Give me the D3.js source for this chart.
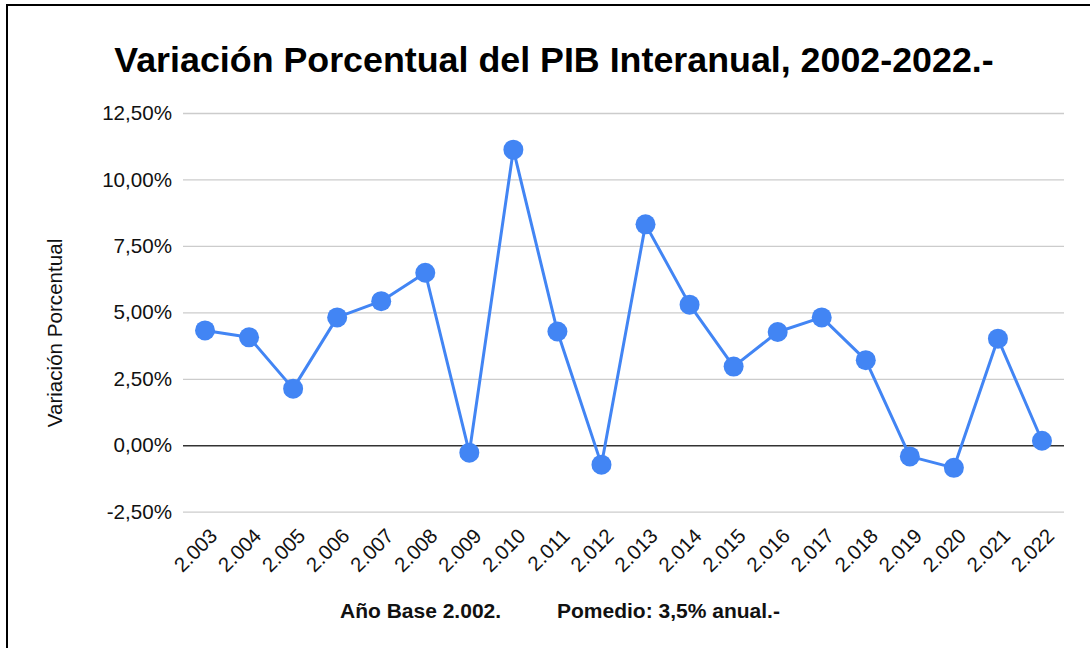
<!DOCTYPE html>
<html>
<head>
<meta charset="utf-8">
<script src="https://cdn.jsdelivr.net/npm/d3@7"></script>
<style>
  html, body { margin: 0; padding: 0; background: #fff; }
  svg { display: block; font-family: Arial, "Liberation Sans", sans-serif; }
</style>
</head>
<body>
<div id="chart"></div>
<script>
// data
const years = ['2.003', '2.004', '2.005', '2.006', '2.007', '2.008', '2.009', '2.010', '2.011', '2.012',
               '2.013', '2.014', '2.015', '2.016', '2.017', '2.018', '2.019', '2.020', '2.021', '2.022'];
const variacion = [4.32, 4.06, 2.13, 4.81, 5.42, 6.49, -0.28, 11.12, 4.28, -0.73,
                   8.31, 5.29, 2.96, 4.26, 4.81, 3.20, -0.42, -0.85, 4.01, 0.17];
const yTicks = [-2.5, 0, 2.5, 5, 7.5, 10, 12.5];

const width = 1090;
const height = 648;
const plot = { left: 183, right: 1064, top: 113, bottom: 511.7 };

const locale = d3.formatLocale({ decimal: ',', thousands: '.', grouping: [3], currency: ['', ''], minus: '-' });
const fmt = locale.format('.2f');

const svg = d3.select('#chart').append('svg')
  .attr('width', width)
  .attr('height', height);

// frame
svg.append('rect')
  .attr('x', 7).attr('y', 5)
  .attr('width', 1200).attr('height', 800)
  .attr('fill', 'none')
  .attr('stroke', '#000')
  .attr('stroke-width', 2);

const x = d3.scalePoint()
  .domain(years)
  .range([plot.left, plot.right])
  .padding(0.5);

const y = d3.scaleLinear()
  .domain([-2.5, 12.5])
  .range([plot.bottom, plot.top]);

// y axis + grid
const yAxis = svg.append('g')
  .attr('transform', `translate(${plot.left},0)`)
  .call(d3.axisLeft(y)
    .tickValues(yTicks)
    .tickSizeInner(-(plot.right - plot.left))
    .tickSizeOuter(0)
    .tickPadding(11)
    .tickFormat(d => fmt(d) + '%'));
yAxis.select('.domain').remove();
yAxis.selectAll('.tick line')
  .attr('stroke', d => d === 0 ? '#333' : '#ccc')
  .attr('stroke-width', d => d === 0 ? 1.5 : 1.3);
yAxis.selectAll('.tick text')
  .attr('fill', '#111')
  .style('font-size', '20.6px');

// x axis
const xAxis = svg.append('g')
  .attr('transform', `translate(0,${plot.bottom})`)
  .call(d3.axisBottom(x).tickSize(0));
xAxis.select('.domain').remove();
xAxis.selectAll('.tick text')
  .attr('x', 0).attr('y', 0).attr('dy', 0)
  .attr('text-anchor', 'end')
  .attr('transform', 'translate(13,25.5) rotate(-45)')
  .attr('fill', '#111')
  .style('font-size', '20.4px');

// line
const line = d3.line()
  .x((d, i) => x(years[i]))
  .y(d => y(d));

svg.append('path')
  .datum(variacion)
  .attr('fill', 'none')
  .attr('stroke', '#4285f4')
  .attr('stroke-width', 3)
  .attr('stroke-linejoin', 'round')
  .attr('d', line);

svg.append('g').selectAll('circle')
  .data(variacion)
  .enter().append('circle')
    .attr('cx', (d, i) => x(years[i]))
    .attr('cy', d => y(d))
    .attr('r', 10)
    .attr('fill', '#4285f4');

// title
svg.append('text')
  .attr('x', 554).attr('y', 72)
  .attr('text-anchor', 'middle')
  .style('font-size', '35.8px')
  .style('font-weight', 'bold')
  .attr('fill', '#000')
  .text('Variación Porcentual del PIB Interanual, 2002-2022.-');

// y axis title
svg.append('text')
  .attr('transform', 'translate(62,333) rotate(-90)')
  .attr('text-anchor', 'middle')
  .style('font-size', '20.6px')
  .attr('fill', '#111')
  .text('Variación Porcentual');

// footer notes
svg.append('text')
  .attr('x', 340).attr('y', 617.5)
  .style('font-size', '21px')
  .style('font-weight', 'bold')
  .attr('fill', '#111')
  .text('Año Base 2.002.');

svg.append('text')
  .attr('x', 557).attr('y', 617.5)
  .style('font-size', '21px')
  .style('font-weight', 'bold')
  .attr('fill', '#111')
  .text('Pomedio: 3,5% anual.-');
</script>
</body>
</html>
